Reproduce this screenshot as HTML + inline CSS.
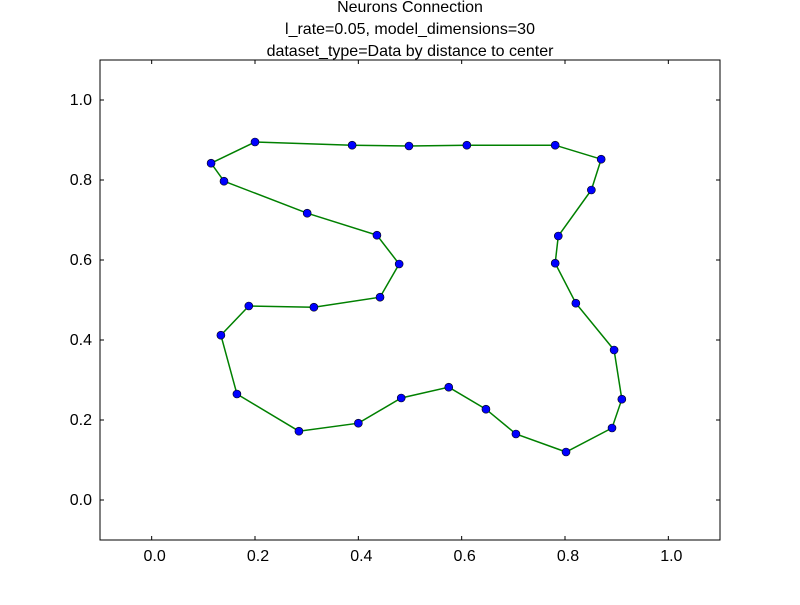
<!DOCTYPE html>
<html><head><meta charset="utf-8"><style>
body{margin:0;background:#fff;width:800px;height:600px;overflow:hidden}
svg{font-family:"Liberation Sans",sans-serif}
</style></head><body>
<svg id="chart" width="800" height="600">
<rect width="800" height="600" fill="#fff"/>
<text x="410" y="12" font-size="16" text-anchor="middle">Neurons Connection</text>
<text x="410" y="34" font-size="16" text-anchor="middle">l_rate=0.05, model_dimensions=30</text>
<text x="410" y="56" font-size="16" text-anchor="middle">dataset_type=Data by distance to center</text>
<g id="plot"></g>
<rect x="100" y="60" width="620" height="480" fill="none" stroke="#000" stroke-width="1"/>
</svg>
<script>
const xTicks=[0.0,0.2,0.4,0.6,0.8,1.0];
const yTicks=[0.0,0.2,0.4,0.6,0.8,1.0];
const xs=[0.140,0.115,0.200,0.388,0.498,0.610,0.781,0.870,0.851,0.787,0.781,0.821,0.895,0.910,0.891,0.802,0.705,0.647,0.575,0.483,0.400,0.285,0.165,0.134,0.188,0.314,0.442,0.479,0.436,0.301];
const ys=[0.797,0.842,0.895,0.887,0.885,0.887,0.887,0.852,0.775,0.660,0.592,0.492,0.375,0.252,0.180,0.120,0.165,0.227,0.282,0.255,0.192,0.172,0.265,0.412,0.485,0.482,0.507,0.590,0.662,0.717];
const L=100,R=720,T=60,B=540,xmin=-0.1,xmax=1.1,ymin=-0.1,ymax=1.1;
const X=v=>L+(v-xmin)/(xmax-xmin)*(R-L);
const Y=v=>B-(v-ymin)/(ymax-ymin)*(B-T);
const NS="http://www.w3.org/2000/svg";
const g=document.getElementById('plot');
function mk(t,a){const e=document.createElementNS(NS,t);for(const k in a)e.setAttribute(k,a[k]);g.appendChild(e);return e;}
xTicks.forEach(v=>{
  const x=X(v);
  const t1=mk('line',{x1:x,x2:x,y1:B,y2:B-4,stroke:'#000'});
  
  
  const t2=mk('line',{x1:x,x2:x,y1:T,y2:T+4,stroke:'#000'});
  
  
  const lb=mk('text',{x:x+3,y:B+21,'font-size':16,'text-anchor':'middle'});
  lb.textContent=v.toFixed(1);
  
  
});
yTicks.forEach(v=>{
  const y=Y(v);
  const t1=mk('line',{x1:L,x2:L+4,y1:y,y2:y,stroke:'#000'});
  
  
  const t2=mk('line',{x1:R,x2:R-4,y1:y,y2:y,stroke:'#000'});
  
  
  const lb=mk('text',{x:L-8,y:y+5,'font-size':16,'text-anchor':'end'});
  lb.textContent=v.toFixed(1);
  
  
});
let pts=xs.map((v,i)=>X(v)+','+Y(ys[i]));
pts.push(pts[0]);
const line=mk('polyline',{points:pts.join(' '),fill:'none',stroke:'#008000','stroke-width':1.5});


xs.forEach((v,i)=>{
  const c=mk('circle',{cx:X(v),cy:Y(ys[i]),r:4,fill:'#0000ff',stroke:'#000','stroke-width':0.6});
  
  
});
</script>
</body></html>
